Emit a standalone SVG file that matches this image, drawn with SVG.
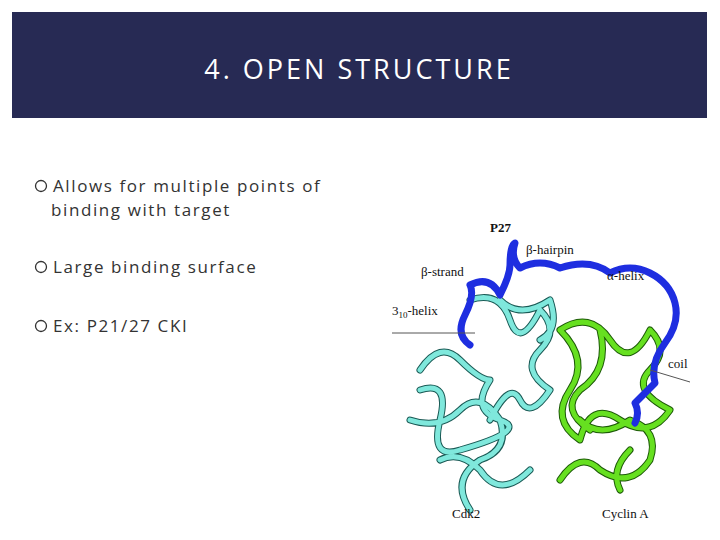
<svg xmlns="http://www.w3.org/2000/svg" width="720" height="540" viewBox="0 0 720 540">
<style>
.b{font-family:"Open Sans","Liberation Sans",sans-serif;font-size:17px;fill:#333;letter-spacing:1.6px}
.m{fill:none;stroke:#333;stroke-width:1.3}
.l{font-family:"Liberation Serif",serif;font-size:13px;fill:#111}
.cy{fill:none;stroke:#7fe8dc;stroke-width:5;stroke-linecap:round;stroke-linejoin:round}
.cyo{fill:none;stroke:#1a5a55;stroke-width:7;stroke-linecap:round;stroke-linejoin:round}
.gr{fill:none;stroke:#66e020;stroke-width:5;stroke-linecap:round;stroke-linejoin:round}
.gro{fill:none;stroke:#1d5a08;stroke-width:7;stroke-linecap:round;stroke-linejoin:round}
.bl{fill:none;stroke:#1e2ee0;stroke-width:7;stroke-linecap:round;stroke-linejoin:round}
</style>
<rect width="720" height="540" fill="#fff"/>
<g id="header"><rect x="12" y="12" width="695" height="106" fill="#272a54"/>
<text x="359" y="79" text-anchor="middle" font-family="Open Sans,Liberation Sans,sans-serif" font-size="27" fill="#fff" letter-spacing="3">4. OPEN STRUCTURE</text></g>
<g id="bullets">
<circle class="m" cx="41" cy="186" r="5.5"/><text class="b" x="53" y="192">Allows for multiple points of</text>
<text class="b" x="51" y="216">binding with target</text>
<circle class="m" cx="41" cy="267" r="5.5"/><text class="b" x="53" y="273">Large binding surface</text>
<circle class="m" cx="41" cy="326" r="5.5"/><text class="b" x="53" y="332">Ex: P21/27 CKI</text>
</g>
<g id="protein">
<path class="cyo" d="M420 370 q20 -30 40 -10 t30 20 q-20 30 10 40 t-40 30 q-30 10 -20 -30 t-20 -30 M410 420 q30 10 50 -10 q20 -20 40 10 q10 30 -20 40 q-30 20 -10 50 M470 300 q30 -10 40 20 t30 -10 q20 20 0 40 t10 40 q-20 30 -30 10 t-30 20 M440 460 q20 -10 40 10 q20 30 50 0 M500 300 q20 20 50 0 q10 30 -10 40"/>
<path class="cy" d="M420 370 q20 -30 40 -10 t30 20 q-20 30 10 40 t-40 30 q-30 10 -20 -30 t-20 -30 M410 420 q30 10 50 -10 q20 -20 40 10 q10 30 -20 40 q-30 20 -10 50 M470 300 q30 -10 40 20 t30 -10 q20 20 0 40 t10 40 q-20 30 -30 10 t-30 20 M440 460 q20 -10 40 10 q20 30 50 0 M500 300 q20 20 50 0 q10 30 -10 40"/>
<path class="gro" d="M560 330 q30 -20 50 10 t40 -10 q20 20 0 40 t20 40 q-20 30 -50 10 t-40 20 q-30 -20 -10 -50 t-10 -60 M580 420 q20 20 50 0 q30 10 20 40 q-20 30 -50 10 q-20 -20 -40 10 M600 330 q10 40 -20 60 q-20 20 10 40 M630 450 q-20 20 -10 40"/>
<path class="gr" d="M560 330 q30 -20 50 10 t40 -10 q20 20 0 40 t20 40 q-20 30 -50 10 t-40 20 q-30 -20 -10 -50 t-10 -60 M580 420 q20 20 50 0 q30 10 20 40 q-20 30 -50 10 q-20 -20 -40 10 M600 330 q10 40 -20 60 q-20 20 10 40 M630 450 q-20 20 -10 40"/>
<path class="bl" d="M470 345 q-15 -10 -5 -30 q10 -20 5 -30 q20 -10 30 10 q10 -20 10 -30 q0 -20 5 -22 q-5 15 5 25 q20 -10 40 0 q30 -10 50 5 q20 -10 40 0 q20 10 25 30 q5 20 -10 40 q-15 20 -10 40 q-10 10 -20 20 q5 10 0 20"/>
</g>
<g id="labels">
<text class="l" x="490" y="232" font-weight="bold">P27</text>
<text class="l" x="526" y="254">β-hairpin</text>
<text class="l" x="421" y="276">β-strand</text>
<text class="l" x="607" y="280">α-helix</text>
<text class="l" x="392" y="315">3<tspan font-size="9" dy="3">10</tspan><tspan dy="-3">-helix</tspan></text>
<text class="l" x="668" y="368">coil</text>
<text class="l" x="452" y="518">Cdk2</text>
<text class="l" x="602" y="518">Cyclin A</text>
<path d="M392 333 L475 333 M650 370 L690 382" stroke="#555" stroke-width="1" fill="none"/>
</g>
</svg>
